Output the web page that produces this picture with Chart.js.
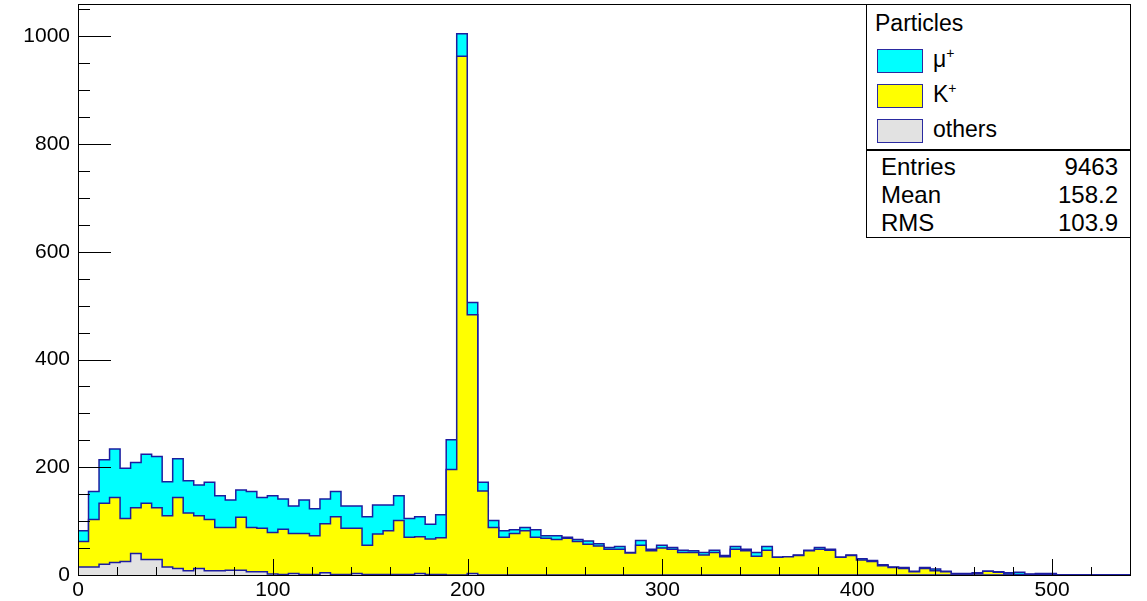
<!DOCTYPE html>
<html>
<head>
<meta charset="utf-8">
<script src="https://cdn.jsdelivr.net/npm/chart.js@4.4.1/dist/chart.umd.min.js"></script>
<style>
  body { margin: 0; background: #fff; font-family: "Liberation Sans", Arial, sans-serif; }
  #wrap { position: relative; width: 1147px; height: 601px; }
  #legend, #stats { position: absolute; box-sizing: border-box; background: #fff; border: 1px solid #000; color: #000; }
  #legend { left: 866px; top: 4px; width: 265px; height: 147px; }
  #stats { left: 866px; top: 149px; width: 265px; height: 89px; border-top: 2px solid #000; }
  .ttl { position: absolute; left: 8px; top: 5px; font-size: 23px; }
  .sw { position: absolute; left: 10px; width: 46px; height: 24px; box-sizing: border-box; border: 1px solid #2a2aa0; }
  .lb { position: absolute; left: 66px; font-size: 23px; }
  .lb sup { font-size: 14px; vertical-align: 9px; line-height: 0; }
  .row { position: absolute; left: 14px; right: 12px; font-size: 24px; display: flex; justify-content: space-between; }
</style>
</head>
<body>
<div id="wrap">
  <canvas id="myChart" width="1147" height="601"></canvas>
  <div id="legend">
    <div class="ttl">Particles</div>
    <div class="sw" style="top:44px;background:#00ffff"></div><div class="lb" style="top:41px">&mu;<sup>+</sup></div>
    <div class="sw" style="top:79px;background:#ffff00"></div><div class="lb" style="top:76px">K<sup>+</sup></div>
    <div class="sw" style="top:114px;background:#e2e2e2"></div><div class="lb" style="top:111px">others</div>
  </div>
  <div id="stats">
    <div class="row" style="top:2px"><span>Entries</span><span>9463</span></div>
    <div class="row" style="top:30px"><span>Mean</span><span>158.2</span></div>
    <div class="row" style="top:58px"><span>RMS</span><span>103.9</span></div>
  </div>
</div>
<script>
// histogramme : 100 bins de 0 a 540
var x_min = 0, x_max = 540, n_bins = 100;

// comptages par bin
var muons = [20, 52, 81, 90, 93, 84, 91, 95, 63, 72, 60, 57, 69, 59, 51, 51, 67, 57, 68, 56,
             51, 62, 50, 46, 47, 41, 41, 53, 54, 48, 46, 35, 37, 27, 43, 55, 42, 23, 16, 13,
             12, 7, 6, 14, 5, 7, 2, 4, 6, 4, 3, 5, 1, 9, 3, 5, 3, 4, 3, 5,
             4, 2, 5, 3, 7, 7, 0, 0, 1, 1, 3, 2, 0, 1, 2, 2, 2, 1, 2, 1,
             2, 3, 1, 1, 1, 1, 0, 1, 2, 4, 1, 2, 2, 0, 0, 0, 0, 0, 0, 0];
var kaons = [47, 88, 113, 121, 80, 85, 104, 96, 95, 132, 107, 98, 95, 80, 79, 98, 82, 81, 77, 84,
             74, 76, 72, 91, 107, 86, 84, 54, 75, 81, 100, 69, 68, 66, 68, 196, 963, 480, 156, 88,
             70, 77, 82, 70, 68, 66, 68, 62, 57, 54, 48, 48, 41, 55, 45, 50, 48, 42, 42, 37,
             42, 34, 48, 45, 35, 46, 33, 34, 36, 45, 48, 46, 33, 36, 28, 25, 17, 14, 12, 6,
             12, 8, 6, 2, 2, 3, 7, 5, 2, 1, 1, 1, 1, 0, 0, 0, 0, 0, 0, 0];
var others = [15, 15, 20, 23, 25, 40, 29, 29, 15, 12, 8, 12, 8, 8, 9, 9, 6, 6, 2, 1,
              3, 1, 1, 4, 1, 1, 3, 1, 1, 1, 1, 1, 3, 1, 1, 0, 0, 3, 0, 0,
              0, 0, 0, 0, 0, 0, 0, 0, 0, 0, 0, 0, 0, 0, 0, 0, 0, 0, 0, 0,
              0, 0, 0, 0, 0, 0, 0, 0, 0, 0, 0, 0, 0, 0, 0, 0, 0, 0, 0, 0,
              0, 0, 0, 0, 0, 0, 0, 0, 0, 0, 0, 0, 0, 0, 0, 0, 0, 0, 0, 0];

var x_ticks = [0, 100, 200, 300, 400, 500];
var y_ticks = [0, 200, 400, 600, 800, 1000];

var bin_w = (x_max - x_min) / n_bins;
var outline = '#1c1ca0';

// empilement : others en bas, puis K+, puis mu+
function steps(arrs) {
    var pts = [];
    for (var i = 0; i < n_bins; i++) {
        var s = 0;
        arrs.forEach(function (a) { s += a[i]; });
        pts.push({x: x_min + i * bin_w, y: s});
    }
    pts.push({x: x_max, y: pts[n_bins - 1].y});
    return pts;
}

function histo(label, pts, color, ord) {
    return {
        label: label,
        data: pts,
        backgroundColor: color,
        borderColor: outline,
        borderWidth: 1.5,
        fill: 'origin',
        stepped: 'before',
        pointRadius: 0,
        order: ord
    };
}

// cadre + graduations vers l'interieur (style ROOT)
var frame = {
    id: 'frame',
    afterDatasetsDraw: function (chart) {
        var c = chart.ctx, a = chart.chartArea;
        var xs = chart.scales.x, ys = chart.scales.y;
        c.save();
        c.strokeStyle = '#000';
        c.lineWidth = 1;
        c.beginPath();
        for (var v = 0; v <= x_max; v += 20) {
            var px = Math.round(xs.getPixelForValue(v)) + 0.5;
            var len = (v % 100 === 0) ? 16 : 8;
            c.moveTo(px, a.bottom);
            c.lineTo(px, a.bottom - len);
        }
        for (var w = 0; w <= 1050; w += 50) {
            var py = Math.round(ys.getPixelForValue(w)) + 0.5;
            var l2 = (w % 200 === 0) ? 33 : 12;
            c.moveTo(a.left, py);
            c.lineTo(a.left + l2, py);
        }
        c.stroke();
        c.strokeRect(a.left + 0.5, a.top + 0.5, a.right - a.left, a.bottom - a.top);
        c.restore();
    }
};

var tick_font = {family: 'Liberation Sans', size: 21};

var ctx = document.getElementById("myChart").getContext("2d");
var chart = new Chart(ctx, {
    type: "line",
    data: {
        datasets: [
            histo("mu+", steps([others, kaons, muons]), "#00ffff", 3),
            histo("K+", steps([others, kaons]), "#ffff00", 2),
            histo("others", steps([others]), "#e2e2e2", 1)
        ]
    },
    options: {
        responsive: false,
        animation: false,
        devicePixelRatio: 1,
        layout: {padding: {left: 0, top: 4, right: 17, bottom: 0}},
        plugins: {legend: {display: false}, tooltip: {enabled: false}},
        scales: {
            x: {
                type: 'linear',
                min: x_min,
                max: x_max,
                grid: {display: false, drawTicks: false},
                border: {display: false},
                ticks: {padding: 3, color: '#000', font: tick_font,
                        callback: function (v) { return String(v); }},
                afterBuildTicks: function (s) {
                    s.ticks = x_ticks.map(function (v) { return {value: v}; });
                },
                afterFit: function (s) { s.height = 26; s.paddingLeft = 0; s.paddingRight = 0; }
            },
            y: {
                min: 0,
                max: 1060,
                grid: {display: false, drawTicks: false},
                border: {display: false},
                ticks: {padding: 8, color: '#000', font: tick_font,
                        callback: function (v) { return String(v); }},
                afterBuildTicks: function (s) {
                    s.ticks = y_ticks.map(function (v) { return {value: v}; });
                },
                afterFit: function (s) { s.width = 78; s.paddingTop = 0; s.paddingBottom = 0; }
            }
        }
    },
    plugins: [frame]
});
</script>
</body>
</html>
